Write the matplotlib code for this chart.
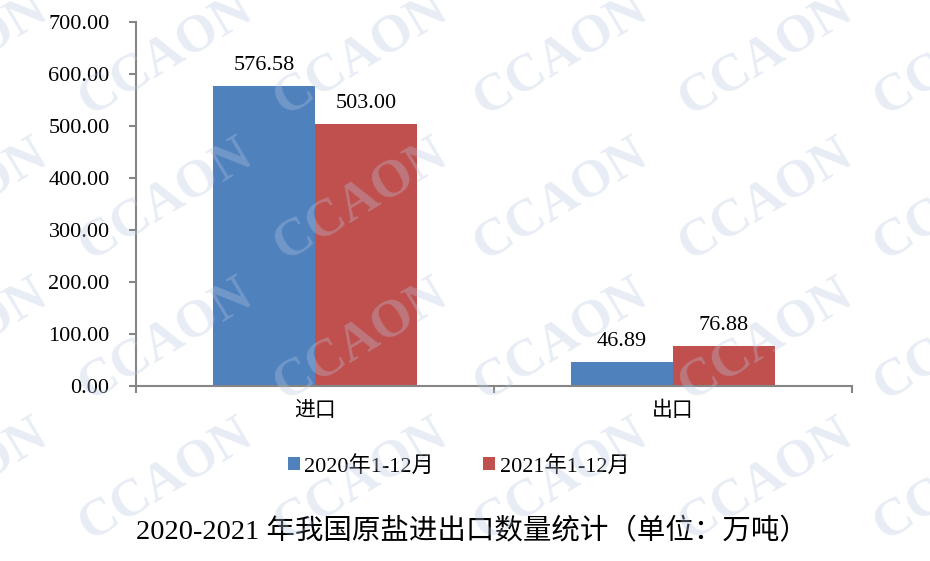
import matplotlib
matplotlib.use('Agg')
import matplotlib.pyplot as plt
import numpy as np

# 数据
categories = ['进口', '出口']
series_names = ['2020年1-12月', '2021年1-12月']
values_2020 = [576.58, 46.89]
values_2021 = [503.00, 76.88]
yticks = [0, 100, 200, 300, 400, 500, 600, 700]
title = '2020-2021 年我国原盐进出口数量统计（单位：万吨）'

fonts = ['Liberation Serif', 'Noto Sans CJK SC']
plt.rcParams['font.family'] = fonts

fig = plt.figure(figsize=(9.3, 5.61), dpi=100)
ax = fig.add_axes([0.1462, 0.3119, 0.7699, 0.6489])

x = np.arange(len(categories))
w = 0.285
b1 = ax.bar(x - w / 2, values_2020, w, color='#4f81bd', label=series_names[0])
b2 = ax.bar(x + w / 2, values_2021, w, color='#c0504d', label=series_names[1])

for bars in (b1, b2):
    for rect in bars:
        h = rect.get_height()
        ax.annotate(f'{h:.2f}', (rect.get_x() + rect.get_width() / 2, h),
                    xytext=(0, 8), textcoords='offset points',
                    ha='center', va='bottom', fontsize=16)

ax.set_xlim(-0.5, 1.5)
ax.set_ylim(0, 700)
ax.set_yticks(yticks)
ax.set_yticklabels([f'{v:.2f}' for v in yticks], fontsize=16)
ax.tick_params(axis='y', direction='out', length=5, width=1.5, color='#868686', pad=14)

# 类别标签放在中间，刻度线在分界处
ax.set_xticks([-0.5, 0.5, 1.5])
ax.set_xticklabels([])
ax.tick_params(axis='x', direction='out', length=5, width=1.5, color='#868686')
for xi, c in zip(x, categories):
    ax.text(xi, -31, c, ha='center', va='top', fontsize=15,
            transform=ax.transData)

for s in ['top', 'right']:
    ax.spines[s].set_visible(False)
for s in ['left', 'bottom']:
    ax.spines[s].set_color('#868686')
    ax.spines[s].set_linewidth(1.5)

fig.legend(handles=[b1, b2], loc='center', bbox_to_anchor=(0.493, 0.169),
           ncol=2, frameon=False, fontsize=16, handlelength=0.55,
           handleheight=0.55, handletextpad=0.2, columnspacing=2.2)

fig.text(0.507, 0.053, title, ha='center', va='center', fontsize=20.5)

# 水印
for cx in [-40, 165, 360, 560, 765, 960]:
    for cy in [55, 200, 340, 480]:
        fig.text(cx / 930, 1 - cy / 561, 'CCAON', ha='center', va='center',
                 rotation=31, fontsize=38, fontweight='bold',
                 color='#b8c8e0', alpha=0.32, family='Liberation Serif',
                 zorder=10)

fig.savefig('out.png', dpi=100)
